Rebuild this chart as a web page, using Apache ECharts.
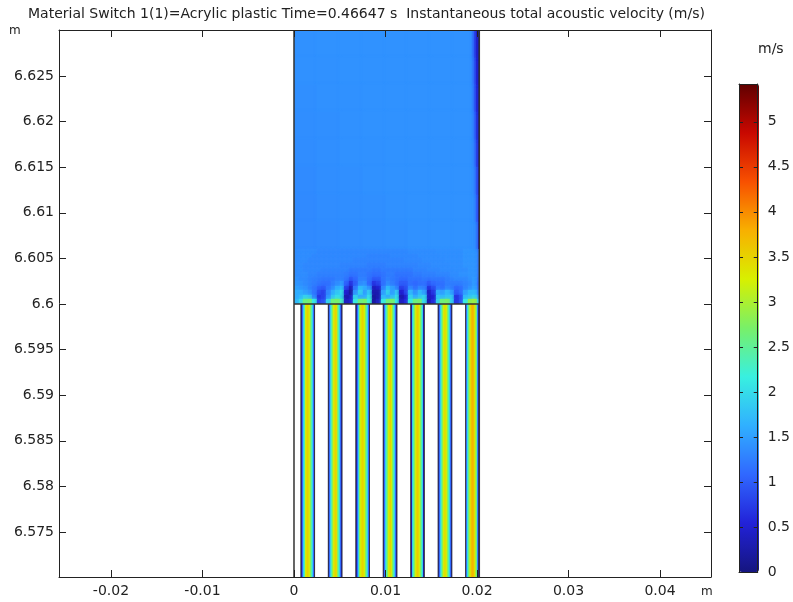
<!DOCTYPE html>
<html><head><meta charset="utf-8">
<script src="https://cdn.jsdelivr.net/npm/echarts@6/dist/echarts.min.js"></script>
<style>html,body{margin:0;padding:0;background:#fff}#c{width:793px;height:602px}</style>
</head><body><div id="c"></div>
<script>
const titleText = 'Material Switch 1(1)=Acrylic plastic Time=0.46647 s  Instantaneous total acoustic velocity (m/s)';
const xTicks = [-0.02,-0.01,0,0.01,0.02,0.03,0.04];
const yTicks = [6.575,6.58,6.585,6.59,6.595,6.6,6.605,6.61,6.615,6.62,6.625];
const barTicks = [0,0.5,1,1.5,2,2.5,3,3.5,4,4.5,5];
const palette = ['#15157f','#2222d8','#3068ff','#30b0ff','#38f0e0','#78f068','#d8f000','#f8b000','#f85000','#c80800','#600000'];
const valueMax = 5.42;
const xRange = [-0.02568,0.04557], yRange = [6.57007,6.63004];

// channels (lower region)
const channelStarts = [0.00075,0.00375,0.00675,0.00975,0.01275,0.01575,0.01875];
const channelY = [6.57,6.6];
const stripeWidth = 0.0001;
const channelProfiles = [
 [0.3,1.1,1.9,2.4,2.8,3.2,3.4,3.5,3.4,3.2,2.8,2.4,1.9,1.1,0.3],
 [0.3,1.1,1.9,2.4,2.8,3.2,3.4,3.5,3.4,3.2,2.8,2.4,1.9,1.1,0.3],
 [0.3,1.1,1.9,2.4,2.8,3.2,3.4,3.5,3.4,3.2,2.8,2.4,1.9,1.1,0.3],
 [0.3,1.1,1.9,2.4,2.8,3.2,3.4,3.5,3.4,3.2,2.8,2.4,1.9,1.1,0.3],
 [0.3,1.1,1.9,2.4,2.8,3.2,3.45,3.55,3.45,3.2,2.8,2.4,1.9,1.1,0.3],
 [0.3,1.1,1.9,2.4,2.8,3.2,3.4,3.5,3.4,3.2,2.8,2.4,1.9,1.1,0.3],
 [0.4,1.2,2.0,2.6,3.0,3.4,3.65,3.75,3.65,3.4,3.0,2.6,2.0,1.3,0.5]
];

// near-field above the channels: rows from y=6.6 upward, columns 0.0005 m wide
const nearStepX = 0.0005, nearStepY = 0.0005, nearY0 = 6.6;
const nearRows = [
 [1.7,2.0,2.6,2.7,2.1,0.8,0.9,1.9,2.6,2.7,2.3,0.4,0.5,2.1,2.6,2.7,2.2,0.2,0.4,2.1,2.6,2.7,2.1,0.4,0.6,2.1,2.6,2.7,2.0,0.3,0.6,1.9,2.6,2.7,1.9,0.7,0.9,2.1,2.8,2.9,1.9],
 [1.6,1.7,1.9,1.8,1.3,0.7,0.8,1.4,1.8,2.0,1.9,0.3,0.4,1.9,1.6,1.6,2.0,0.2,0.3,1.7,1.6,1.7,2.0,0.3,0.5,1.9,1.6,1.8,1.9,0.4,0.5,1.8,1.7,1.8,1.8,0.7,0.9,1.7,1.8,1.9,1.5],
 [1.6,1.6,1.5,1.4,1.2,0.9,0.8,1.3,1.6,1.8,2.0,0.5,0.2,1.4,1.9,1.5,1.8,0.3,0.3,1.5,1.9,1.5,1.8,0.5,0.8,1.7,1.4,1.7,1.5,0.4,0.7,1.6,1.5,1.7,1.5,1.0,1.1,1.5,1.7,1.7,1.3],
 [1.5,1.45,1.4,1.3,1.2,1.05,1.0,1.2,1.35,1.6,1.7,0.8,0.4,1.2,1.7,1.6,1.4,0.4,0.5,1.3,1.7,1.5,1.3,0.8,0.9,1.3,1.15,1.3,1.25,0.7,0.9,1.2,1.15,1.3,1.25,1.1,1.15,1.3,1.4,1.5,1.2],
 [1.42,1.4,1.35,1.3,1.25,1.2,1.15,1.15,1.25,1.35,1.45,1.05,0.7,1.0,1.35,1.4,1.1,0.7,0.8,1.15,1.35,1.25,1.15,1.0,1.0,1.15,1.1,1.15,1.15,1.0,1.1,1.15,1.15,1.25,1.25,1.25,1.25,1.3,1.35,1.45,1.15],
 [1.4,1.35,1.35,1.3,1.27,1.25,1.22,1.22,1.22,1.27,1.27,1.2,1.0,1.1,1.27,1.27,1.15,1.0,1.0,1.18,1.27,1.22,1.18,1.12,1.12,1.18,1.18,1.18,1.22,1.2,1.22,1.22,1.22,1.27,1.32,1.35,1.35,1.35,1.4,1.45,1.2],
 [1.36,1.36,1.36,1.32,1.32,1.28,1.28,1.28,1.28,1.28,1.28,1.24,1.18,1.18,1.24,1.24,1.18,1.14,1.14,1.18,1.24,1.24,1.18,1.18,1.18,1.18,1.24,1.24,1.28,1.28,1.28,1.32,1.32,1.32,1.36,1.36,1.4,1.4,1.42,1.42,1.25],
 [1.36,1.36,1.33,1.33,1.33,1.33,1.3,1.3,1.3,1.3,1.3,1.3,1.24,1.24,1.24,1.24,1.24,1.2,1.2,1.24,1.24,1.24,1.24,1.24,1.24,1.24,1.3,1.3,1.3,1.33,1.33,1.33,1.36,1.36,1.36,1.38,1.38,1.38,1.42,1.42,1.25],
 [1.36,1.36,1.33,1.33,1.33,1.33,1.33,1.33,1.33,1.33,1.3,1.3,1.3,1.3,1.3,1.3,1.26,1.26,1.26,1.26,1.3,1.3,1.3,1.3,1.3,1.3,1.3,1.33,1.33,1.33,1.36,1.36,1.36,1.36,1.38,1.38,1.38,1.42,1.42,1.42,1.25],
 [1.36,1.36,1.36,1.33,1.33,1.33,1.33,1.33,1.33,1.33,1.33,1.33,1.33,1.3,1.3,1.3,1.3,1.3,1.3,1.3,1.3,1.3,1.3,1.3,1.33,1.33,1.33,1.33,1.36,1.36,1.36,1.36,1.36,1.38,1.38,1.38,1.38,1.42,1.42,1.42,1.25],
 [1.36,1.36,1.36,1.36,1.33,1.33,1.33,1.33,1.33,1.33,1.33,1.33,1.33,1.33,1.33,1.33,1.3,1.3,1.3,1.3,1.3,1.33,1.33,1.33,1.33,1.33,1.33,1.36,1.36,1.36,1.36,1.36,1.38,1.38,1.38,1.38,1.38,1.42,1.42,1.42,1.25],
 [1.36,1.36,1.36,1.36,1.36,1.33,1.33,1.33,1.33,1.33,1.33,1.33,1.33,1.33,1.33,1.33,1.33,1.33,1.33,1.33,1.33,1.33,1.33,1.33,1.33,1.36,1.36,1.36,1.36,1.36,1.36,1.38,1.38,1.38,1.38,1.38,1.38,1.42,1.42,1.42,1.25]
];

// far field: rows from y=6.606 upward, columns 0.0025 m wide
const farStepX = 0.0025, farStepY = 0.003, farY0 = 6.606;
const farRows = [
 [1.34,1.35,1.36,1.37,1.38,1.39,1.4,1.4],
 [1.34,1.36,1.37,1.38,1.39,1.4,1.4,1.4],
 [1.35,1.37,1.38,1.39,1.4,1.4,1.4,1.4],
 [1.36,1.38,1.39,1.39,1.4,1.4,1.4,1.4],
 [1.37,1.38,1.39,1.4,1.4,1.4,1.4,1.4],
 [1.38,1.39,1.39,1.4,1.4,1.4,1.4,1.4],
 [1.39,1.39,1.4,1.4,1.4,1.4,1.4,1.4],
 [1.39,1.4,1.4,1.4,1.4,1.4,1.4,1.4]
];

// dark strip along the right wall: rows from y=6.606 upward
const edgeX = [0.0194,0.0197,0.0199,0.0201,0.02025];
const edgeRows = [
 [1.4,1.38,1.25,0.5],
 [1.4,1.33,1.05,0.45],
 [1.38,1.28,0.95,0.4],
 [1.36,1.2,0.8,0.35],
 [1.34,1.1,0.7,0.3],
 [1.3,1.0,0.6,0.3],
 [1.26,0.95,0.55,0.25],
 [1.22,0.85,0.5,0.25]
];

// walls
const domainX = [0,0.02025], domainY = [6.57,6.63], interfaceY = 6.6, channelWidth = 0.0015;

// upper-region cells are drawn far to near so the soft cell edges spread upward from the interface
const fieldCells = [];
farRows.slice().reverse().forEach((r,k)=>{
  const j = farRows.length-1-k;
  r.forEach((v,i)=>fieldCells.push([i*farStepX,(i+1)*farStepX,farY0+j*farStepY,farY0+(j+1)*farStepY,v]));
});
nearRows.slice().reverse().forEach((r,k)=>{
  const j = nearRows.length-1-k;
  r.forEach((v,i)=>fieldCells.push([i*nearStepX,Math.min((i+1)*nearStepX,domainX[1]),nearY0+j*nearStepY,nearY0+(j+1)*nearStepY,v]));
});
edgeRows.forEach((r,j)=>r.forEach((v,i)=>{
  fieldCells.push([edgeX[i],edgeX[i+1],farY0+j*farStepY,farY0+(j+1)*farStepY,v]);
}));
const channelCells = [];
channelProfiles.forEach((p,c)=>p.forEach((v,i)=>{
  const x0 = channelStarts[c]+i*stripeWidth;
  channelCells.push([x0,x0+stripeWidth,channelY[0],channelY[1],v]);
}));

const walls = [
 [domainX[0],domainX[0],domainY[0],domainY[1]],
 [domainX[1],domainX[1],domainY[0],domainY[1]],
 [domainX[0],domainX[1],interfaceY,interfaceY]
];
const thinWalls = [];
channelStarts.forEach(s=>{
  thinWalls.push([s,s,channelY[0],channelY[1]]);
  thinWalls.push([s+channelWidth,s+channelWidth,channelY[0],channelY[1]]);
});

const ink = '#222';
const labelStyle = {color:ink,fontFamily:'DejaVu Sans',fontSize:14};
function frameAxis(extra){
  return Object.assign({
    type:'value',z:6,splitLine:{show:false},
    axisLine:{show:true,onZero:false,lineStyle:{color:ink,width:1}}
  },extra);
}
function cellRect(api,soft){
  const a=api.coord([api.value(0),api.value(3)]), b=api.coord([api.value(1),api.value(2)]);
  const x0=Math.round(a[0]), x1=Math.round(b[0]), y0=Math.round(a[1]), y1=Math.round(b[1]);
  const fill=api.visual('color');
  const el={type:'rect',shape:{x:x0,y:y0,width:Math.max(1,x1-x0),height:Math.max(1,y1-y0)},style:{fill}};
  if(soft){
    el.style.shadowBlur=3; el.style.shadowColor=fill;
    const p=api.coord([domainX[0],domainY[1]]), q=api.coord([domainX[1],interfaceY]);
    el.clipPath={type:'rect',shape:{x:p[0],y:p[1],width:q[0]-p[0],height:q[1]-p[1]}};
  }
  return el;
}
function lineItem(api,color,width){
  const a=api.coord([api.value(0),api.value(2)]), b=api.coord([api.value(1),api.value(3)]);
  return {type:'line',shape:{x1:a[0],y1:a[1],x2:b[0],y2:b[1]},style:{stroke:color,lineWidth:width}};
}
const cellBase = {type:'custom',xAxisIndex:0,yAxisIndex:0,coordinateSystem:'cartesian2d',silent:true,encode:{x:[0,1],y:[2,3]}};
const textOpt = s=>({color:ink,fontFamily:'DejaVu Sans',fontSize:s,fontWeight:'normal'});
const option = {
  animation:false,
  backgroundColor:'#fff',
  title:[
    {text:titleText,left:28,top:7,padding:0,textStyle:textOpt(14)},
    {text:'m',left:9,top:25,padding:0,textStyle:textOpt(12)},
    {text:'m',left:701,top:586,padding:0,textStyle:textOpt(12)},
    {text:'m/s',left:758,top:42,padding:0,textStyle:textOpt(14)}
  ],
  grid:[
    {left:59,top:30,width:652,height:547},
    {left:739,top:84,width:20,height:488}
  ],
  xAxis:[
    frameAxis({gridIndex:0,position:'bottom',min:xRange[0],max:xRange[1],
      axisTick:{show:true,inside:true,length:7,customValues:xTicks,lineStyle:{color:ink}},
      axisLabel:{show:true,customValues:xTicks,margin:7,...labelStyle}}),
    frameAxis({gridIndex:0,position:'top',min:xRange[0],max:xRange[1],
      axisTick:{show:true,inside:true,length:7,customValues:xTicks,lineStyle:{color:ink}},
      axisLabel:{show:false}}),
    frameAxis({gridIndex:1,position:'bottom',min:0,max:1,axisTick:{show:false},axisLabel:{show:false}}),
    frameAxis({gridIndex:1,position:'top',min:0,max:1,axisTick:{show:false},axisLabel:{show:false}})
  ],
  yAxis:[
    frameAxis({gridIndex:0,position:'left',min:yRange[0],max:yRange[1],
      axisTick:{show:true,inside:true,length:7,customValues:yTicks,lineStyle:{color:ink}},
      axisLabel:{show:true,customValues:yTicks,margin:5,...labelStyle}}),
    frameAxis({gridIndex:0,position:'right',min:yRange[0],max:yRange[1],
      axisTick:{show:true,inside:true,length:7,customValues:yTicks,lineStyle:{color:ink}},
      axisLabel:{show:false}}),
    frameAxis({gridIndex:1,position:'left',min:0,max:valueMax,
      axisTick:{show:true,inside:true,length:4,customValues:barTicks,lineStyle:{color:ink}},
      axisLabel:{show:false}}),
    frameAxis({gridIndex:1,position:'right',min:0,max:valueMax,
      axisTick:{show:true,inside:true,length:4,customValues:barTicks,lineStyle:{color:ink}},
      axisLabel:{show:true,customValues:barTicks,margin:10,...labelStyle}})
  ],
  visualMap:{
    type:'continuous',min:0,max:valueMax,seriesIndex:[0,1],dimension:4,
    inRange:{color:palette},show:true,calculable:false,hoverLink:false,showLabel:false,
    text:null,left:739,top:84,itemWidth:20,itemHeight:488,padding:0,orient:'vertical',z:1,realtime:false
  },
  series:[
    {...cellBase,data:fieldCells,z:2,renderItem(p,api){return cellRect(api,true);}},
    {...cellBase,data:channelCells,z:2,renderItem(p,api){return cellRect(api,false);}},
    {...cellBase,data:walls,z:3,renderItem(p,api){return lineItem(api,'#333',1.5);}},
    {...cellBase,data:thinWalls,z:3,renderItem(p,api){return lineItem(api,'#334',1);}}
  ]
};
const chart = echarts.init(document.getElementById('c'),null,{renderer:'canvas'});
chart.setOption(option);
</script>
</body></html>
